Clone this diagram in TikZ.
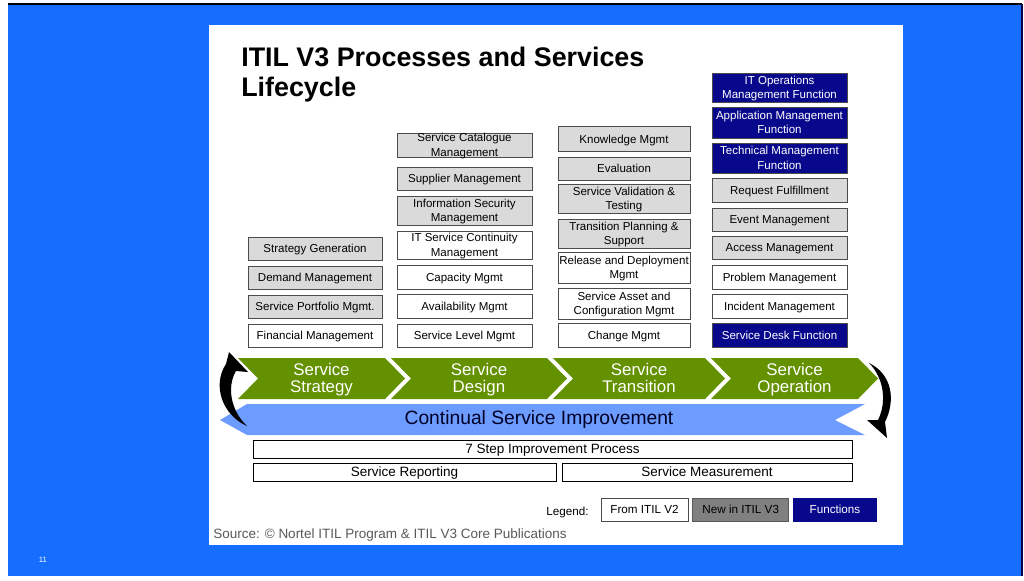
\documentclass[tikz,border=0pt]{standalone}
\usepackage{fontspec}
\setmainfont{Liberation Sans}
\usetikzlibrary{positioning}

\definecolor{slideblue}{RGB}{22,110,255}
\definecolor{lcgreen}{RGB}{100,145,0}
\definecolor{csiblue}{RGB}{108,156,255}
\definecolor{fnnavy}{RGB}{8,8,140}
\definecolor{newgray}{RGB}{218,218,218}
\definecolor{lgdgray}{RGB}{128,128,128}

\begin{document}
\begin{tikzpicture}[x=0.025cm, y=-0.025cm,
    procbox/.style={draw=black!70, line width=0.5pt, inner sep=0pt, align=center,
      text depth=0pt, font=\fontsize{8.2}{10.4}\selectfont},
    stepbox/.style={draw=black, line width=0.6pt, inner sep=0pt, minimum height=0.45cm,
      text depth=0pt, font=\fontsize{9.6}{11}\selectfont},
    lgdbox/.style={draw=black!70, line width=0.5pt, inner sep=0pt, minimum height=0.575cm,
      text depth=0pt, font=\fontsize{8.3}{10}\selectfont},
    phase/.style={text=white, align=center, inner sep=0pt, text depth=0pt,
      font=\fontsize{12}{12}\selectfont}]

  \useasboundingbox (0,0) rectangle (1024,580);
  \fill[white] (0,0) rectangle (1024,580);
  \fill[slideblue] (8,4) rectangle (1022,576);
  \draw[line width=1pt] (8,4) -- (1022,4);
  \draw[fnnavy!50!black, line width=0.8pt] (1022,4) -- (1022,576);
  \node[text=white, font=\fontsize{5.5}{6}\selectfont] (pgno) at (43,560) {11};

  % slide panel
  \fill[white] (209,25) rectangle (903,545);
  \node[anchor=north west, inner sep=0pt, align=left,
        font=\bfseries\fontsize{19.1}{21.6}\selectfont] (title) at (241,46.5)
        {ITIL V3 Processes and Services\\Lifecycle};

  % process columns
  \foreach \y/\h/\fc/\tc/\txt [count=\i] in {
      248.5/23/newgray/black/Strategy Generation,
      277.5/23/newgray/black/Demand Management,
      306.5/23/newgray/black/Service Portfolio Mgmt.,
      335.5/23/white/black/Financial Management}{
    \node[procbox, fill=\fc, text=\tc, minimum width=3.35cm, minimum height=\h*0.025cm]
      (ss\i) at (315,\y) {\txt};
  }

  \foreach \y/\h/\fc/\tc/\txt [count=\i] in {
      145/24/newgray/black/{Service Catalogue\\Management},
      178.5/23/newgray/black/Supplier Management,
      210.5/29/newgray/black/{Information Security\\Management},
      245/28/white/black/{IT Service Continuity\\Management},
      277/24/white/black/Capacity Mgmt,
      306/24/white/black/Availability Mgmt,
      335.5/23/white/black/Service Level Mgmt}{
    \node[procbox, fill=\fc, text=\tc, minimum width=3.375cm, minimum height=\h*0.025cm]
      (sd\i) at (464.5,\y) {\txt};
  }

  \foreach \y/\h/\fc/\tc/\txt [count=\i] in {
      139/25/newgray/black/Knowledge Mgmt,
      168.5/23/newgray/black/Evaluation,
      198.5/29/newgray/black/{Service Validation \&\\Testing},
      233.5/29/newgray/black/{Transition Planning \&\\Support},
      267.5/31/white/black/{Release and Deployment\\Mgmt},
      303.5/31/white/black/{Service Asset and\\Configuration Mgmt},
      335/24/white/black/Change Mgmt}{
    \node[procbox, fill=\fc, text=\tc, minimum width=3.3cm, minimum height=\h*0.025cm]
      (st\i) at (624,\y) {\txt};
  }

  \foreach \y/\h/\fc/\tc/\txt [count=\i] in {
      87.5/29/fnnavy/white/{IT Operations\\Management Function},
      122.5/31/fnnavy/white/{Application Management\\Function},
      158/30/fnnavy/white/{Technical Management\\Function},
      190/24/newgray/black/Request Fulfillment,
      219.5/23/newgray/black/Event Management,
      247.5/23/newgray/black/Access Management,
      277/24/white/black/Problem Management,
      306/24/white/black/Incident Management,
      335/24/fnnavy/white/Service Desk Function}{
    \node[procbox, fill=\fc, text=\tc, minimum width=3.375cm, minimum height=\h*0.025cm]
      (so\i) at (779.5,\y) {\txt};
  }

  % lifecycle chevrons
  \foreach \xl/\xr/\wa/\wb [count=\i] in {238/385/Service/Strategy, 391/547/Service/Design,
      553/705/Service/Transition, 711/858/Service/Operation}{
    \fill[lcgreen] (\xl,358) -- (\xr,358) -- ++(20,20.5) -- (\xr,399) -- (\xl,399)
      -- ++(20,-20.5) -- cycle;
    \node[phase] (ph\i) at ({(\xl+\xr)/2+10},377.5) {\wa\\\wb};
  }

  \fill[csiblue] (220,420) -- (247,404) -- (865,404) -- (835,420) -- (865,435)
    -- (247,435) -- cycle;
  \node[inner sep=0pt, text=black!85!blue, font=\fontsize{13.7}{14}\selectfont] (csi)
    at (539,420) {Continual Service Improvement};

  % cycle arrows
  \fill (247,426) .. controls (222,415) and (212,385) .. (226,364) -- (229,352)
    -- (248,372) -- (236,371) .. controls (227,386) and (230,410) .. (247,426) -- cycle;
  \fill (869,363) .. controls (892,374) and (896,400) .. (885,422) -- (887,438)
    -- (867,420) -- (878,420) .. controls (887,402) and (884,378) .. (869,363) -- cycle;

  % improvement boxes
  \node[stepbox, minimum width=14.975cm] (imp) at (552.5,449) {7 Step Improvement Process};
  \node[stepbox, minimum width=7.575cm] (rep) at (404.5,472) {Service Reporting};
  \node[stepbox, minimum width=7.25cm] (msr) at (707,472) {Service Measurement};

  % legend
  \node[lgdbox, fill=white, minimum width=2.175cm] (lv2) at (644.5,509.5) {From ITIL V2};
  \node[lgdbox, fill=lgdgray, draw=lgdgray!70!black, minimum width=2.4cm, right=0.1cm of lv2]
    (lv3) {New in ITIL V3};
  \node[lgdbox, fill=fnnavy, draw=fnnavy, text=white, minimum width=2.075cm, right=0.1cm of lv3]
    (lfn) {Functions};
  \node[inner sep=0pt, text depth=0pt, font=\fontsize{8.3}{10}\selectfont] (lgd)
    at (567.5,511) {Legend:};

  \node[anchor=base west, inner sep=0pt, text=black!65, font=\fontsize{9.6}{11}\selectfont]
    (src) at (213,538) {Source: © Nortel ITIL Program \& ITIL V3 Core Publications};
\end{tikzpicture}
\end{document}
